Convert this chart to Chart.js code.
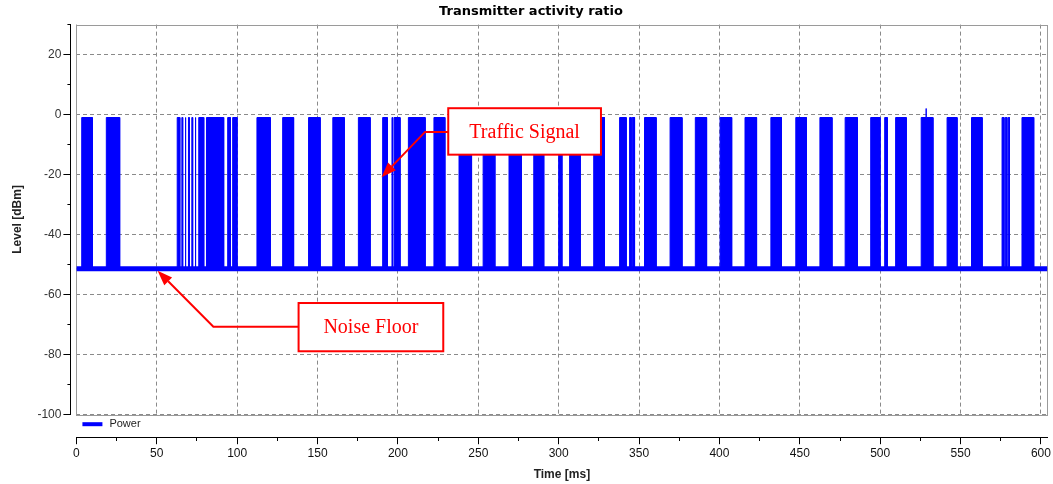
<!DOCTYPE html>
<html>
<head>
<meta charset="utf-8">
<script src="https://cdn.jsdelivr.net/npm/chart.js@4/dist/chart.umd.min.js"></script>
<style>
  html, body { margin: 0; padding: 0; background: #fff; }
  #wrap { width: 1053px; height: 484px; }
</style>
</head>
<body>
<div id="wrap"><canvas id="activityChart"></canvas></div>
<script>
/* Transmitter activity ratio */

const xMax = 604;
const yMin = -100;
const yMax = 30;
const noiseFloor = -51.5;   // dBm
const signalLevel = -1;     // dBm, top of the bursts

// burst start / end times [ms]
const burstStart = [3.3, 18.6, 62.7, 65.6, 67.6, 69.7, 71.8, 73.8, 76.1, 80.9, 94.1, 97.2,
    112.3, 128.3, 144.4, 159.5, 175.4, 190.5, 196.3, 197.6, 206.5, 222.4, 238.0, 253.0,
    269.1, 284.5, 300.0, 306.8, 321.8, 337.9, 344.1, 345.7, 353.4, 369.3, 385.0, 400.4,
    415.9, 432.0, 447.5, 462.5, 478.2, 494.1, 502.8, 509.6, 525.5, 541.6, 556.8, 575.8,
    577.8, 579.6, 588.2];
const burstEnd = [9.9, 26.9, 64.3, 66.1, 68.1, 70.2, 72.3, 74.3, 79.2, 91.6, 95.8, 99.9,
    120.6, 135.1, 151.6, 166.6, 182.7, 193.4, 196.7, 201.3, 216.9, 229.2, 245.8, 260.3,
    276.8, 290.7, 302.0, 313.4, 328.5, 342.0, 345.1, 347.2, 360.6, 376.7, 392.0, 407.6,
    423.1, 438.6, 454.1, 470.0, 485.8, 499.9, 504.4, 516.2, 532.8, 547.8, 563.4, 577.0,
    578.8, 580.4, 595.5];

// single peak above the burst level
const peakTime = [528.6];
const peakLevel = [2];

/* build the trace path from the burst lists */
const powerPts = [{ x: 0, y: noiseFloor }];
burstStart.forEach((s, i) => {
    const e = burstEnd[i];
    powerPts.push({ x: s, y: noiseFloor }, { x: s, y: signalLevel });
    peakTime.forEach((p, j) => {
        if (p > s && p < e) {
            powerPts.push({ x: p, y: signalLevel }, { x: p, y: peakLevel[j] }, { x: p, y: signalLevel });
        }
    });
    powerPts.push({ x: e, y: signalLevel }, { x: e, y: noiseFloor });
});
powerPts.push({ x: xMax, y: noiseFloor });

const floorPts = [{ x: 0, y: noiseFloor }, { x: xMax, y: noiseFloor }];

const BLUE = '#0000ff';
const GRID = '#8a8a8a';
const FONT = '"Liberation Sans", Arial, sans-serif';

/* plot frame + legend */
const framePlugin = {
    id: 'frame',
    beforeDatasetsDraw(chart) {
        const { ctx, chartArea: a } = chart;
        ctx.save();
        ctx.strokeStyle = '#9a9a9a';
        ctx.lineWidth = 1;
        ctx.strokeRect(Math.round(a.left) + 0.5, Math.round(a.top) + 0.5,
            Math.round(a.right - a.left), Math.round(a.bottom - a.top));
        ctx.restore();
    },
    afterDraw(chart) {
        const { ctx, chartArea: a } = chart;
        ctx.save();
        ctx.fillStyle = BLUE;
        ctx.fillRect(a.left + 6, a.bottom + 8, 20, 4);
        ctx.fillStyle = '#222';
        ctx.font = '11px ' + FONT;
        ctx.textBaseline = 'middle';
        ctx.fillText('Power', a.left + 33, a.bottom + 10);
        ctx.restore();
    }
};

/* red call-out boxes with arrows */
const notes = [
    { text: 'Traffic Signal', x1: 231.3, x2: 326.3, y1: 2.1, y2: -13.4,
      path: [[231.3, -5.8], [216.9, -5.8], [189.8, -20.9]] },
    { text: 'Noise Floor', x1: 138.2, x2: 228.2, y1: -62.9, y2: -79.0,
      path: [[138.2, -70.8], [85.2, -70.8], [50.5, -52.1]] }
];

const notesPlugin = {
    id: 'notes',
    afterDatasetsDraw(chart) {
        const { ctx } = chart;
        const sx = chart.scales.x, sy = chart.scales.y;
        ctx.save();
        notes.forEach(n => {
            const l = sx.getPixelForValue(n.x1), r = sx.getPixelForValue(n.x2);
            const t = sy.getPixelForValue(n.y1), b = sy.getPixelForValue(n.y2);
            ctx.fillStyle = '#fff';
            ctx.fillRect(l, t, r - l, b - t);
            ctx.strokeStyle = '#ff0000';
            ctx.lineWidth = 2;
            ctx.strokeRect(l, t, r - l, b - t);
            ctx.fillStyle = '#ff0000';
            ctx.font = '20px "Liberation Serif", "Times New Roman", serif';
            ctx.textAlign = 'center';
            ctx.textBaseline = 'middle';
            ctx.fillText(n.text, (l + r) / 2, (t + b) / 2 + 1);

            // arrow
            const pts = n.path.map(p => [sx.getPixelForValue(p[0]), sy.getPixelForValue(p[1])]);
            const tip = pts[pts.length - 1], prev = pts[pts.length - 2];
            const ang = Math.atan2(tip[1] - prev[1], tip[0] - prev[0]);
            const len = 15, half = 5.5;
            const bx = tip[0] - len * Math.cos(ang), by = tip[1] - len * Math.sin(ang);
            ctx.beginPath();
            ctx.moveTo(pts[0][0], pts[0][1]);
            for (let i = 1; i < pts.length - 1; i++) ctx.lineTo(pts[i][0], pts[i][1]);
            ctx.lineTo(bx, by);
            ctx.lineWidth = 2;
            ctx.stroke();
            ctx.beginPath();
            ctx.moveTo(tip[0], tip[1]);
            ctx.lineTo(bx + half * Math.sin(ang), by - half * Math.cos(ang));
            ctx.lineTo(bx - half * Math.sin(ang), by + half * Math.cos(ang));
            ctx.closePath();
            ctx.fill();
        });
        ctx.restore();
    }
};

const ctx = document.getElementById('activityChart');

new Chart(ctx, {
    type: 'line',
    data: {
        datasets: [{
            label: 'Power',
            data: powerPts,
            borderColor: BLUE,
            backgroundColor: BLUE,
            borderWidth: 1,
            fill: { value: noiseFloor },
            pointRadius: 0,
            tension: 0
        }, {
            label: 'floor',
            data: floorPts,
            borderColor: BLUE,
            borderWidth: 5,
            fill: false,
            pointRadius: 0
        }]
    },
    plugins: [framePlugin, notesPlugin],
    options: {
        responsive: true,
        maintainAspectRatio: false,
        animation: false,
        layout: { padding: { left: 10, right: 1, top: 0, bottom: 0 } },
        plugins: {
            legend: { display: false },
            tooltip: { enabled: false },
            title: {
                display: true,
                text: 'Transmitter activity ratio',
                color: '#000',
                font: { family: '"DejaVu Sans", sans-serif', size: 13, weight: 'bold' },
                padding: { top: 4, bottom: 5 }
            }
        },
        scales: {
            // grid-only axes next to the plot area
            x: {
                type: 'linear', position: 'bottom', weight: 0,
                min: 0, max: xMax,
                ticks: { display: false, stepSize: 50, includeBounds: false },
                grid: { color: GRID, drawTicks: false },
                border: { display: false, dash: [4, 3] },
                afterFit(s) { s.height = 23; }
            },
            y: {
                position: 'left', weight: 0,
                min: yMin, max: yMax,
                ticks: { display: false, stepSize: 20, includeBounds: false },
                grid: { color: GRID, drawTicks: false },
                border: { display: false, dash: [4, 3] },
                afterFit(s) { s.width = 6; }
            },
            // detached tick axes
            x2: {
                type: 'linear', position: 'bottom', weight: 1,
                min: 0, max: xMax,
                ticks: {
                    stepSize: 25, includeBounds: false, autoSkip: false, maxRotation: 0,
                    color: '#111', font: { family: FONT, size: 12 }, padding: 2,
                    callback: v => (v % 50 === 0 ? v : '')
                },
                grid: {
                    drawOnChartArea: false, tickLength: 7, tickColor: '#000',
                    tickBorderDash: c => (c.tick && c.tick.value % 50 !== 0 ? [3, 20] : [])
                },
                border: { color: '#000' },
                title: {
                    display: true, text: 'Time [ms]', color: '#222',
                    font: { family: FONT, size: 12, weight: 'bold' }, padding: { top: 5, bottom: 2 }
                }
            },
            y2: {
                position: 'left', weight: 1,
                min: yMin, max: yMax,
                ticks: {
                    stepSize: 10, autoSkip: false, color: '#333',
                    font: { family: FONT, size: 12 }, padding: 2,
                    callback: v => (v % 20 === 0 && v !== yMax ? v : '')
                },
                grid: {
                    drawOnChartArea: false, tickLength: 7, tickColor: '#000',
                    tickBorderDash: c => (c.tick && c.tick.value % 20 !== 0 ? [0, 4, 3, 20] : [])
                },
                border: { color: '#000' },
                title: {
                    display: true, text: 'Level [dBm]', color: '#222',
                    font: { family: FONT, size: 12, weight: 'bold' }, padding: { top: 0, bottom: 11 }
                }
            }
        }
    }
});
</script>
</body>
</html>
